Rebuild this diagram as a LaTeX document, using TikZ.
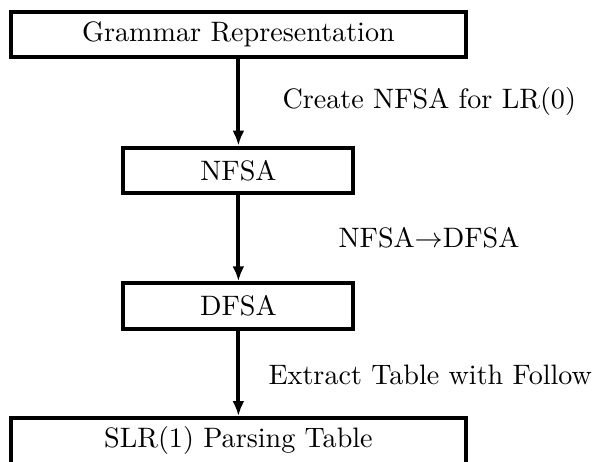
\documentclass[tikz,border=0pt]{standalone}
\usetikzlibrary{arrows.meta}

\begin{document}
\begin{tikzpicture}[
    stage/.style={draw, line width=1.4pt, inner sep=0pt,
      minimum height=0.57cm},
    widestage/.style={stage, minimum width=5.68cm},
    narrowstage/.style={stage, minimum width=2.875cm},
    flow/.style={line width=1.4pt, -{Latex[length=5.3pt,width=4.2pt]}},
    steplabel/.style={anchor=base west, inner sep=0pt}
  ]
  \useasboundingbox (0,0) rectangle (7.4375,-5.775);
  \clip (0,0) rectangle (7.4375,-5.775);

  % 箱
  \node[widestage]   (gram)  at (2.98,-0.43)  {Grammar Representation};
  \node[narrowstage] (nfsa)  at (2.98,-2.13)  {NFSA};
  \node[narrowstage] (dfsa)  at (2.98,-3.825) {DFSA};
  \node[widestage]   (table) at (2.98,-5.51)  {SLR(1) Parsing Table};

  % 矢印
  \draw[flow] (gram) -- (nfsa);
  \draw[flow] (nfsa) -- (dfsa);
  \draw[flow] (dfsa) -- (table);

  % ラベル
  \node[steplabel] (lblcreate)  at (3.525,-1.3625) {Create NFSA for LR(0)};
  \node[steplabel] (lblconvert) at (4.225,-3.1)    {NFSA$\rightarrow$DFSA};
  \node[steplabel] (lblextract) at (3.35,-4.8125)  {Extract Table with Follow};
\end{tikzpicture}
\end{document}
